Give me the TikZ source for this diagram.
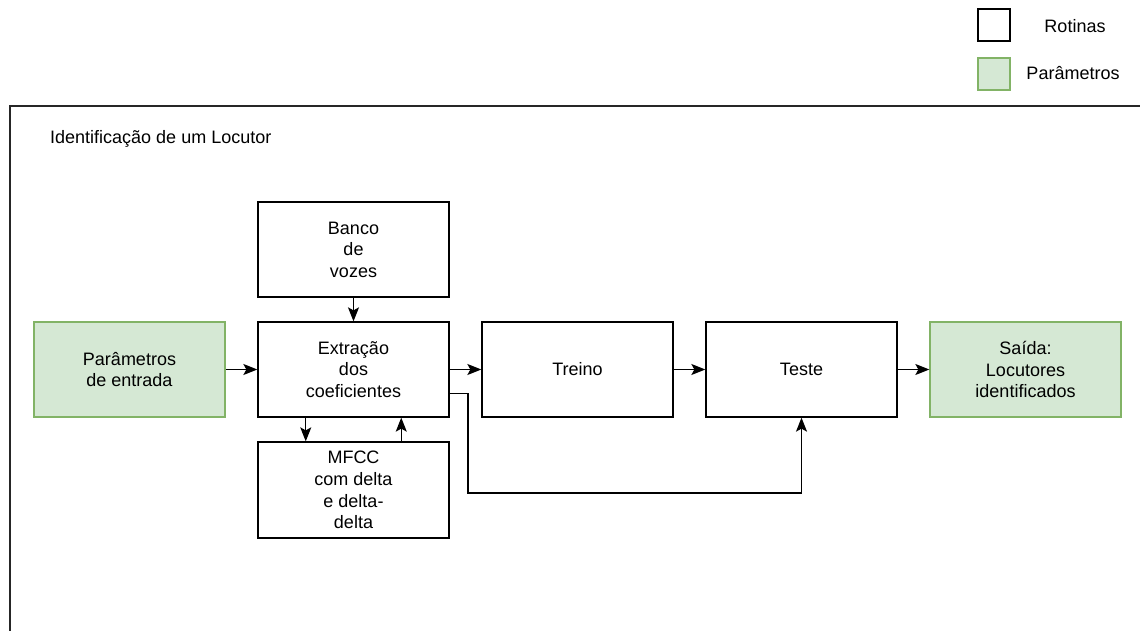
\documentclass[tikz,border=0pt]{standalone}
\usepackage{fontspec}
\setmainfont{Liberation Sans}
\usetikzlibrary{arrows.meta,positioning}

\definecolor{paramfill}{HTML}{D5E8D4}
\definecolor{paramdraw}{HTML}{82B366}

\tikzset{
    rotina/.style={draw=black, line width=1.3pt, minimum width=191pt, minimum height=95pt,
        align=center, inner sep=0pt, font=\fontsize{18}{21.6}\selectfont},
    parametro/.style={rotina, draw=paramdraw, fill=paramfill},
    legenda/.style={draw=black, line width=1.3pt, minimum width=32pt, minimum height=32pt, inner sep=0pt},
    rotulo/.style={font=\fontsize{18}{21.6}\selectfont, inner sep=0pt},
    fluxo/.style={line width=1.3pt, -{Stealth[length=14pt, width=11pt, inset=3pt]}}
}

\begin{document}
\begin{tikzpicture}[x=1pt, y=-1pt]
    \useasboundingbox (0,0) rectangle (1140,631);
    \clip (0,0) rectangle (1140,631);
    % legenda
    \node[legenda] (legRot) at (994,25) {};
    \node[rotulo] (txtRot) at (1075,26) {Rotinas};
    \node[legenda, draw=paramdraw, fill=paramfill] (legPar) at (994,74) {};
    \node[rotulo] (txtPar) at (1073,73) {Parâmetros};
    % moldura
    \draw[line width=1.3pt, draw=black!85] (10,660) -- (10,106) -- (1160,106);
    \node[rotulo, anchor=west] (titulo) at (50,139) {Identificação de um Locutor};
    % blocos
    \node[rotina] (extr) at (353.5,369.5) {Extração\\dos\\coeficientes};
    \node[rotina, above=23.7pt of extr] (banco) {Banco\\de\\vozes};
    \node[rotina, below=23.7pt of extr, minimum height=96pt] (mfcc) {MFCC\\com delta\\e delta-\\delta};
    \node[parametro, left=31.7pt of extr] (param) {Parâmetros\\de entrada};
    \node[rotina, right=31.7pt of extr] (treino) {Treino};
    \node[rotina, right=31.7pt of treino] (teste) {Teste};
    \node[parametro, right=31.7pt of teste] (saida) {Saída:\\Locutores\\identificados};
    \coordinate (volta) at (468,493);
    % conexoes
    \draw[fluxo] (banco) -- (extr);
    \draw[fluxo] (param) -- (extr);
    \draw[fluxo] (extr) -- (treino);
    \draw[fluxo] (treino) -- (teste);
    \draw[fluxo] (teste) -- (saida);
    \draw[fluxo] ([xshift=-47.75pt]extr.south) -- ([xshift=-47.75pt]mfcc.north);
    \draw[fluxo] ([xshift=47.75pt]mfcc.north) -- ([xshift=47.75pt]extr.south);
    \draw[fluxo] ([yshift=-23.75pt]extr.east) -| (volta) -| (teste.south);
\end{tikzpicture}
\end{document}
